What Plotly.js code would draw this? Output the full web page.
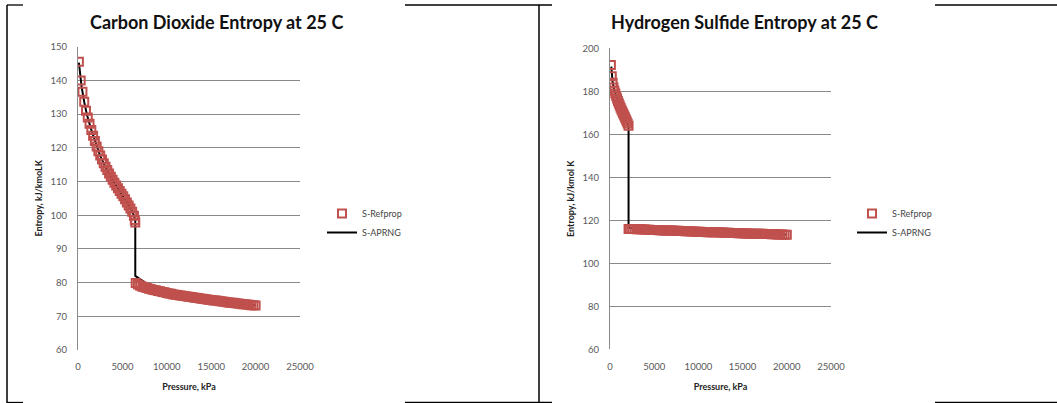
<!DOCTYPE html>
<html>
<head>
<meta charset="utf-8">
<script src="https://cdn.plot.ly/plotly-3.0.1.min.js"></script>
<style>html,body{margin:0;padding:0;background:#fff;}#chart{width:1057px;height:403px;}</style>
</head>
<body>
<div id="chart"></div>
<script>
// ---------- Carbon Dioxide (left chart) ----------
var co2RefP = [100,300,500,700,900,1100,1300,1500,1700,1900,2100,2300,2500,2700,2900,3100,3300,3500,3700,3900,4100,4300,4500,4700,4900,5100,5300,5500,5700,5900,6100,6300,6400,6450,
  6500,6750,7000,7250,7500,7750,8000,8250,8500,8750,9000,9250,9500,9750,10000,10250,10500,10750,11000,11250,11500,11750,12000,12250,12500,12750,13000,13250,13500,13750,14000,14250,14500,14750,15000,15250,15500,15750,16000,16250,16500,16750,17000,17250,17500,17750,18000,18250,18500,18750,19000,19250,19500,19750,20000];
var co2RefS = [145.5,140.0,136.6,133.7,131.0,129.0,127.1,125.3,123.6,122.0,120.4,119.0,117.7,116.5,115.4,114.4,113.4,112.4,111.4,110.5,109.6,108.8,108.0,107.2,106.4,105.6,104.7,103.8,102.9,102.0,101.0,99.8,98.6,97.8,
  79.9,79.4,79.1,78.8,78.6,78.4,78.2,78.0,77.8,77.7,77.5,77.4,77.2,77.1,76.9,76.8,76.7,76.5,76.4,76.3,76.2,76.1,76.0,75.9,75.8,75.7,75.6,75.5,75.4,75.3,75.2,75.1,75.0,74.9,74.8,74.7,74.7,74.6,74.5,74.4,74.3,74.2,74.1,74.0,74.0,73.9,73.8,73.7,73.6,73.6,73.5,73.4,73.3,73.3,73.2];
var co2AprP = [100,200,400,700,1000,1500,2000,2500,3000,3500,4000,4500,5000,5500,6000,6300,6450,6450,7000,7500,8000,9000,10000,12000,14000,16000,18000,20000];
var co2AprS = [145.3,142.5,138.2,133.6,129.9,125.3,121.1,117.6,114.8,112.3,110.0,108.0,106.0,103.8,101.6,99.9,98.4,82.0,81.0,80.2,79.2,78.0,77.1,76.0,75.2,74.5,73.9,73.3];

// ---------- Hydrogen Sulfide (right chart) ----------
var h2sRefP = [100,200,300,400,500,600,700,800,900,1000,1100,1200,1300,1400,1500,1600,1700,1800,1900,2000,2100,
  2100,2250,2500,2750,3000,3250,3500,3750,4000,4250,4500,4750,5000,5250,5500,5750,6000,6250,6500,6750,7000,7250,7500,7750,8000,8250,8500,8750,9000,9250,9500,9750,10000,10250,10500,10750,11000,11250,11500,11750,12000,12250,12500,12750,13000,13250,13500,13750,14000,14250,14500,14750,15000,15250,15500,15750,16000,16250,16500,16750,17000,17250,17500,17750,18000,18250,18500,18750,19000,19250,19500,19750,20000];
var h2sRefS = [192.2,187.0,184.0,181.8,180.3,179.0,177.8,176.6,175.5,174.4,173.4,172.4,171.4,170.5,169.6,168.7,167.8,166.9,166.0,165.0,164.0,
  116.0,116.0,115.9,115.9,115.8,115.8,115.8,115.7,115.7,115.6,115.6,115.5,115.5,115.5,115.4,115.4,115.3,115.3,115.3,115.2,115.2,115.1,115.1,115.1,115.0,115.0,114.9,114.9,114.9,114.8,114.8,114.7,114.7,114.7,114.6,114.6,114.5,114.5,114.5,114.4,114.4,114.4,114.3,114.3,114.2,114.2,114.2,114.1,114.1,114.1,114.0,114.0,114.0,113.9,113.9,113.9,113.8,113.8,113.8,113.7,113.7,113.7,113.6,113.6,113.6,113.5,113.5,113.5,113.4,113.4,113.4,113.3,113.3];
var h2sAprP = [150,300,500,800,1100,1400,1700,2000,2100,2100,5000,10000,15000,20000];
var h2sAprS = [191.5,184.2,180.3,176.6,173.4,170.5,167.8,165.0,163.5,116.5,115.6,114.8,114.1,113.4];

// ---------- labels ----------
var titles = ["Carbon Dioxide Entropy at 25 C", "Hydrogen Sulfide Entropy at 25 C"];
var yTitles = ["Entropy, kJ/kmoLK", "Entropy, kJ/kmol K"];
var xTitle = "Pressure, kPa";
var seriesNames = ["S-Refprop", "S-APRNG"];

var W = 1057, H = 403;
function px(x){ return x / W; }
function py(y){ return 1 - y / H; }

var red = '#C0504D';
var markerStyle = {symbol: 'square-open', size: 8, color: red, line: {width: 2, color: red}};
var lineStyle = {color: '#000', width: 2};

var traces = [
  {x: co2AprP, y: co2AprS, name: seriesNames[1], mode: 'lines', line: lineStyle, xaxis: 'x', yaxis: 'y', legend: 'legend', legendrank: 2},
  {x: co2RefP, y: co2RefS, name: seriesNames[0], mode: 'markers', marker: markerStyle, xaxis: 'x', yaxis: 'y', legend: 'legend', legendrank: 1},
  {x: h2sAprP, y: h2sAprS, name: seriesNames[1], mode: 'lines', line: lineStyle, xaxis: 'x2', yaxis: 'y2', legend: 'legend2', legendrank: 2},
  {x: h2sRefP, y: h2sRefS, name: seriesNames[0], mode: 'markers', marker: markerStyle, xaxis: 'x2', yaxis: 'y2', legend: 'legend2', legendrank: 1}
];

var fam = 'Lato, "Open Sans", sans-serif';
var tickFont = {family: fam, size: 9.5, color: '#595959'};
var axTitleFont = {family: fam, size: 9, color: '#222', weight: 'bold'};

function xAx(dom){
  return {domain: dom, range: [0, 25000], dtick: 5000, tick0: 0, tickformat: 'd', showgrid: false, zeroline: false,
    showline: false, ticks: 'outside', ticklen: 8, tickcolor: 'rgba(0,0,0,0)', tickfont: tickFont,
    title: {text: xTitle, font: axTitleFont, standoff: 12}, fixedrange: true};
}
function yAx(dom, range, dtick, t, anchor){
  return {domain: dom, range: range, dtick: dtick, showgrid: true, gridcolor: '#8a8a8a', gridwidth: 1,
    zeroline: false, showline: true, linecolor: '#8a8a8a', linewidth: 1, ticks: 'outside', ticklen: 8,
    tickcolor: 'rgba(0,0,0,0)', tickfont: tickFont, anchor: anchor,
    title: {text: t, font: axTitleFont, standoff: 6}, fixedrange: true};
}

var black = '#000';
function hline(x0, x1, y){ return {type: 'line', xref: 'paper', yref: 'paper', x0: px(x0), x1: px(x1), y0: py(y), y1: py(y), line: {color: black, width: 1.3}}; }
function vline(x, y0, y1){ return {type: 'line', xref: 'paper', yref: 'paper', x0: px(x), x1: px(x), y0: py(y0), y1: py(y1), line: {color: black, width: 1.5}}; }

var legFont = {family: fam, size: 9, color: '#444'};
var layout = {
  width: W, height: H, margin: {l: 0, r: 0, t: 0, b: 0},
  paper_bgcolor: '#fff', plot_bgcolor: '#fff', showlegend: true,
  xaxis: xAx([px(78), px(300)]),
  yaxis: yAx([py(350), py(46.7)], [60, 150], 10, yTitles[0], 'x'),
  xaxis2: Object.assign(xAx([px(610), px(831)]), {anchor: 'y2'}),
  yaxis2: yAx([py(349.3), py(48.3)], [60, 200], 20, yTitles[1], 'x2'),
  legend: {x: px(322), y: py(199), xanchor: 'left', yanchor: 'top', bgcolor: 'rgba(0,0,0,0)', font: legFont, tracegroupgap: 0},
  legend2: {x: px(852), y: py(199), xanchor: 'left', yanchor: 'top', bgcolor: 'rgba(0,0,0,0)', font: legFont, tracegroupgap: 0},
  annotations: [
    {text: titles[0], xref: 'paper', yref: 'paper', x: px(216), y: py(22), xanchor: 'center', yanchor: 'middle', showarrow: false,
      font: {family: fam, size: 18, color: '#111', weight: 'bold'}},
    {text: titles[1], xref: 'paper', yref: 'paper', x: px(744), y: py(22), xanchor: 'center', yanchor: 'middle', showarrow: false,
      font: {family: fam, size: 18, color: '#111', weight: 'bold'}}
  ],
  shapes: [
    vline(7, 5, 403), vline(539, 5, 403),
    hline(7, 23, 5), hline(405, 552, 5), hline(935, 1057, 5),
    hline(7, 23, 402.5), hline(405, 552, 402.5), hline(935, 1057, 402.5)
  ]
};

Plotly.newPlot('chart', traces, layout, {displayModeBar: false, staticPlot: true});
</script>
</body>
</html>
